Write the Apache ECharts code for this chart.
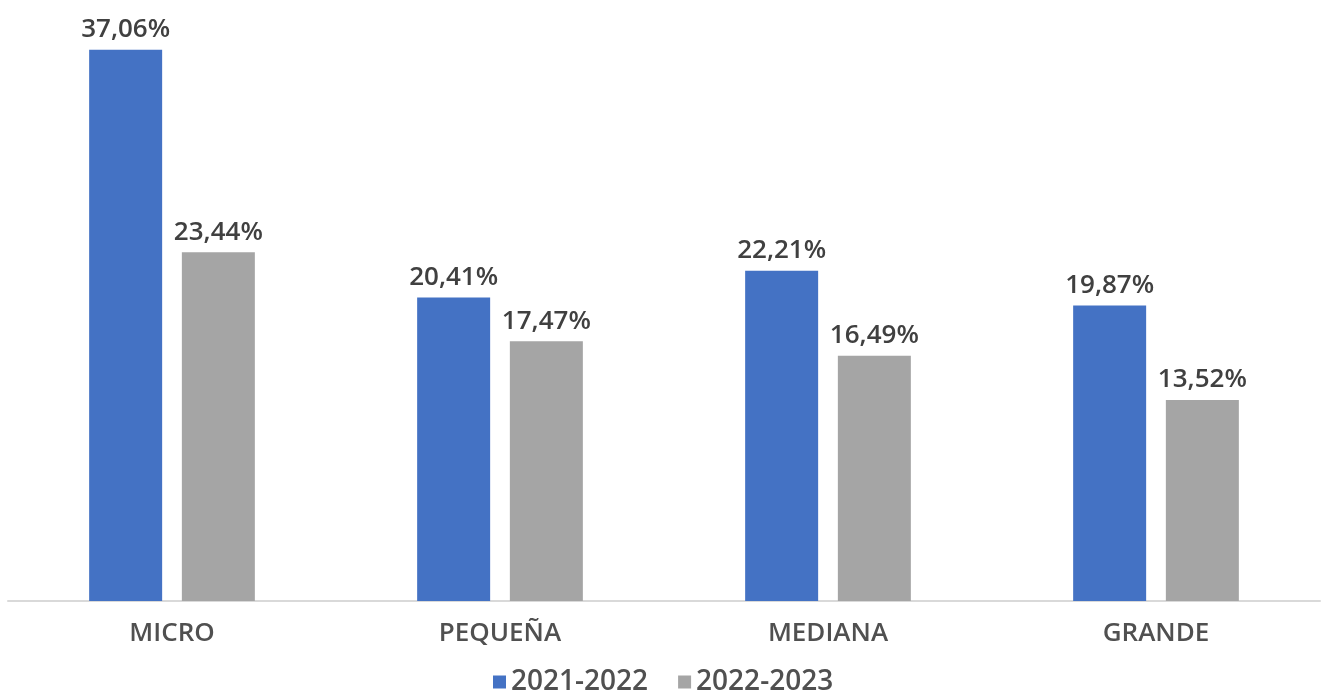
<!DOCTYPE html>
<html>
<head>
<meta charset="utf-8">
<script src="https://cdn.jsdelivr.net/npm/echarts@6/dist/echarts.min.js"></script>
<style>
  html, body { margin: 0; padding: 0; background: #fff; }
  #chart { width: 1324px; height: 693px; }
</style>
</head>
<body>
<div id="chart"></div>
<script>
const categories = ['MICRO', 'PEQUEÑA', 'MEDIANA', 'GRANDE']
const seriesNames = ['2021-2022', '2022-2023']
const values2122 = [37.06, 20.41, 22.21, 19.87]
const values2223 = [23.44, 17.47, 16.49, 13.52]

const font = '"Open Sans", "Noto Sans", sans-serif'
const fmtPct = p => p.value.toFixed(2).replace('.', ',') + '%'
const labelStyle = { show: true, position: 'top', distance: 7, formatter: fmtPct, color: '#404040', fontSize: 26, fontWeight: 600, fontFamily: font }

const chart = echarts.init(document.getElementById('chart'))
const option = {
  animation: false,
  textStyle: { fontFamily: font },
  grid: { left: 8, right: 4, top: 6, bottom: 92, containLabel: false },
  legend: {
    data: seriesNames,
    top: 668,
    left: 493,
    padding: 0,
    itemWidth: 13,
    itemHeight: 13,
    itemGap: 30,
    icon: 'rect',
    textStyle: { fontSize: 28, color: '#505050', fontWeight: 600, fontFamily: font }
  },
  xAxis: {
    type: 'category',
    data: categories,
    axisLine: { lineStyle: { color: '#d9d9d9', width: 2 } },
    axisTick: { show: false },
    axisLabel: { color: '#505050', fontSize: 26, fontWeight: 600, margin: 20, fontFamily: font }
  },
  yAxis: {
    type: 'value',
    min: 0,
    max: 40,
    show: false,
    splitLine: { show: false }
  },
  series: [
    {
      name: seriesNames[0],
      type: 'bar',
      data: values2122,
      barWidth: 73,
      barGap: '27%',
      itemStyle: { color: '#4472c4' },
      label: labelStyle
    },
    {
      name: seriesNames[1],
      type: 'bar',
      data: values2223,
      barWidth: 73,
      itemStyle: { color: '#a5a5a5' },
      label: labelStyle
    }
  ]
}
chart.setOption(option)
</script>
</body>
</html>
